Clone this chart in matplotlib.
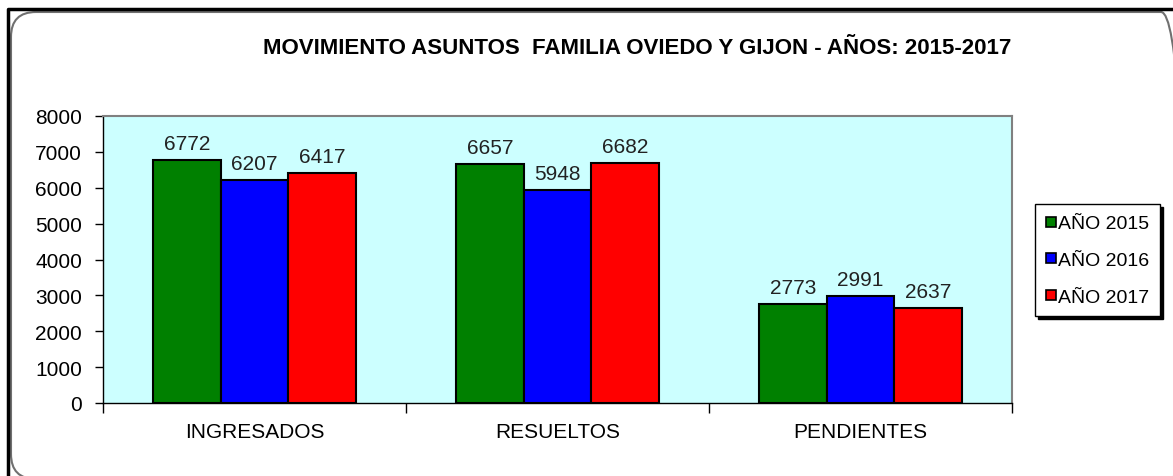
import matplotlib.pyplot as plt
import numpy as np
from matplotlib.patches import FancyBboxPatch
from matplotlib.lines import Line2D

plt.rcParams['font.family'] = ['Liberation Sans', 'DejaVu Sans']

categorias = ['INGRESADOS', 'RESUELTOS', 'PENDIENTES']
anios = ['AÑO 2015', 'AÑO 2016', 'AÑO 2017']
valores_2015 = [6772, 6657, 2773]
valores_2016 = [6207, 5948, 2991]
valores_2017 = [6417, 6682, 2637]
colores = ['#008000', '#0000FF', '#FF0000']

W, H = 1173, 477
fig = plt.figure(figsize=(W / 100, H / 100), dpi=100)

# marco exterior (en pixeles, y hacia arriba)
fondo = fig.add_axes([0, 0, 1, 1])
fondo.set_xlim(0, W)
fondo.set_ylim(0, H)
fondo.axis('off')
fondo.add_patch(FancyBboxPatch((11, -3), 1175, H - 13 + 3, boxstyle='round,pad=0,rounding_size=25',
                               fc='none', ec='#707070', lw=1.5, clip_on=False))
fondo.plot([8, 8, W], [0, H - 10, H - 10], color='black', lw=2.5, solid_capstyle='butt')

ax = fig.add_axes([103 / W, 1 - 404 / H, 909 / W, 287 / H])
ax.set_facecolor('#CCFFFF')

x = np.arange(len(categorias))
ancho = 0.223
series = [valores_2015, valores_2016, valores_2017]
for i, (vals, col, lab) in enumerate(zip(series, colores, anios)):
    barras = ax.bar(x + (i - 1) * ancho, vals, ancho, color=col, edgecolor='black', lw=1.5, label=lab)
    for b, v in zip(barras, vals):
        ax.annotate(str(v), (b.get_x() + b.get_width() / 2, v), xytext=(0, 5),
                    textcoords='offset points', ha='center', va='bottom', fontsize=15, color='#222222')

ax.set_xlim(-0.5, 2.5)
ax.set_ylim(0, 8000)
ax.set_yticks(range(0, 8001, 1000))
ax.set_xticks(x)
ax.set_xticklabels(categorias, fontsize=15)
ax.set_xticks([-0.5, 0.5, 1.5, 2.5], minor=True)
ax.tick_params(axis='x', which='major', length=0, pad=14)
ax.tick_params(axis='x', which='minor', length=7, width=1, color='black')
ax.tick_params(axis='y', length=6, width=1, labelsize=15, pad=9)

for s in ['top', 'right']:
    ax.spines[s].set_color('#808080')
    ax.spines[s].set_linewidth(1.5)
for s in ['left', 'bottom']:
    ax.spines[s].set_color('black')
    ax.spines[s].set_linewidth(1)

fig.text(637 / W, 1 - 48 / H, 'MOVIMIENTO ASUNTOS  FAMILIA OVIEDO Y GIJON - AÑOS: 2015-2017',
         ha='center', va='center', fontsize=16, fontweight='bold')

handles = [Line2D([], [], marker='s', ls='none', markersize=7.5, markerfacecolor=c,
                  markeredgecolor='black', markeredgewidth=1.2) for c in colores]
leg = fig.legend(handles, anios, loc='upper left', bbox_to_anchor=(1035 / W, 1 - 205 / H),
                 fontsize=14, frameon=True, fancybox=False, shadow={'color': 'black', 'alpha': 1},
                 edgecolor='black', handlelength=0.5, handletextpad=0.15, labelspacing=0.98,
                 borderpad=0.55, borderaxespad=0)
leg.get_frame().set_linewidth(1)

fig.savefig('out.png', dpi=100)
